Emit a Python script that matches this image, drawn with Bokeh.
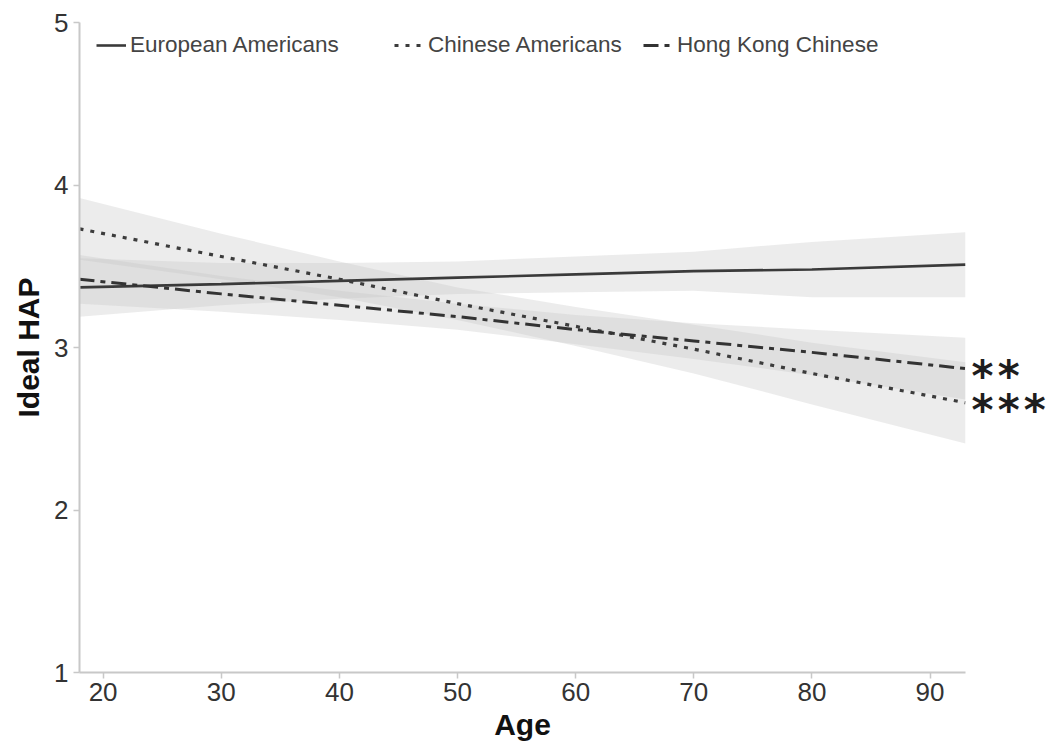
from bokeh.plotting import figure
from bokeh.models import Range1d, Legend, LegendItem, FixedTicker
from bokeh.core.properties import value
from bokeh.embed import file_html
from bokeh.resources import INLINE

# ---- data ----
ages = [18, 30, 40, 50, 60, 70, 80, 93]

ea_fit = [3.37, 3.39, 3.41, 3.43, 3.45, 3.47, 3.48, 3.51]
ea_lo = [3.19, 3.26, 3.30, 3.33, 3.34, 3.35, 3.31, 3.31]
ea_hi = [3.55, 3.52, 3.52, 3.53, 3.56, 3.59, 3.65, 3.71]

ca_fit = [3.73, 3.56, 3.42, 3.27, 3.13, 2.99, 2.84, 2.66]
ca_lo = [3.54, 3.42, 3.31, 3.17, 3.01, 2.84, 2.65, 2.41]
ca_hi = [3.92, 3.70, 3.53, 3.37, 3.25, 3.14, 3.03, 2.91]

hk_fit = [3.42, 3.33, 3.26, 3.19, 3.11, 3.04, 2.97, 2.87]
hk_lo = [3.27, 3.22, 3.17, 3.11, 3.02, 2.93, 2.83, 2.68]
hk_hi = [3.57, 3.44, 3.35, 3.27, 3.20, 3.15, 3.11, 3.06]

series_names = ["European Americans", "Chinese Americans", "Hong Kong Chinese"]
sig_labels = ["", "*\u200a*\u200a*", "*\u200a*"]

x_ticks = [20, 30, 40, 50, 60, 70, 80, 90]
y_ticks = [1, 2, 3, 4, 5]

FONT = "Liberation Sans"

p = figure(width=1050, height=744, output_backend="svg", toolbar_location=None,
           x_range=Range1d(18, 93), y_range=Range1d(1, 5),
           min_border_left=79, min_border_right=85, min_border_top=22, min_border_bottom=72)
p.outline_line_color = None
p.xgrid.grid_line_color = None
p.ygrid.grid_line_color = None
p.background_fill_color = "white"

# bands
for lo, hi in [(ea_lo, ea_hi), (ca_lo, ca_hi), (hk_lo, hk_hi)]:
    p.varea(x=ages, y1=lo, y2=hi, fill_color="#c4c4c4", fill_alpha=0.33)

r_ea = p.line(ages, ea_fit, line_color="#3a3a3a", line_width=2.6)
r_ca = p.line(ages, ca_fit, line_color="#3c3c3c", line_width=3.2, line_dash="4 7")
r_hk = p.line(ages, hk_fit, line_color="#333333", line_width=3, line_dash="15 6 5 6")

# significance stars (overlay level so they are not clipped to the frame)
fits = [ea_fit, ca_fit, hk_fit]
sx, sy, st = [], [], []
for fit, sig in zip(fits, sig_labels):
    if sig:
        sx.append(ages[-1]); sy.append(fit[-1]); st.append(sig)
p.text(x=sx, y=sy, text=st, x_offset=6, y_offset=8, level="overlay",
       text_font=value("DejaVu Sans"), text_font_size="42px", text_font_style="bold",
       text_color="#1e1e1e", text_baseline="alphabetic", text_align="left")

# legend: one entry per Legend so each sits where the reference has it
leg_x = [17, 315, 564]
for name, r, lx in zip(series_names, [r_ea, r_ca, r_hk], leg_x):
    lg = Legend(items=[LegendItem(label=name, renderers=[r])],
                orientation="horizontal", location=(lx, 614))
    lg.border_line_color = None
    lg.background_fill_alpha = 0
    lg.label_text_font = FONT
    lg.label_text_font_size = "22.5px"
    lg.label_text_color = "#444444"
    lg.glyph_width = 30
    lg.label_standoff = 4
    lg.padding = 0
    lg.margin = 0
    p.add_layout(lg)

for ax in (p.xaxis[0], p.yaxis[0]):
    ax.axis_line_color = "#c8c8c8"
    ax.axis_line_width = 2
    ax.major_tick_line_color = "#c8c8c8"
    ax.major_tick_line_width = 1.5
    ax.minor_tick_line_color = None
    ax.major_tick_in = 0
    ax.major_tick_out = 6
    ax.major_label_text_font = FONT
    ax.major_label_text_font_size = "26px"
    ax.major_label_text_color = "#333333"
    ax.axis_label_text_font = FONT
    ax.axis_label_text_font_size = "30px"
    ax.axis_label_text_font_style = "bold"
    ax.axis_label_text_color = "#111111"

p.xaxis.ticker = FixedTicker(ticks=x_ticks)
p.yaxis.ticker = FixedTicker(ticks=y_ticks)
p.xaxis.axis_label = "Age"
p.yaxis.axis_label = "Ideal HAP"
p.xaxis.major_label_standoff = 4
p.yaxis.major_label_standoff = 5
p.xaxis.axis_label_standoff = 4
p.yaxis.axis_label_standoff = 6

open("out.html", "w").write(file_html(p, INLINE))
